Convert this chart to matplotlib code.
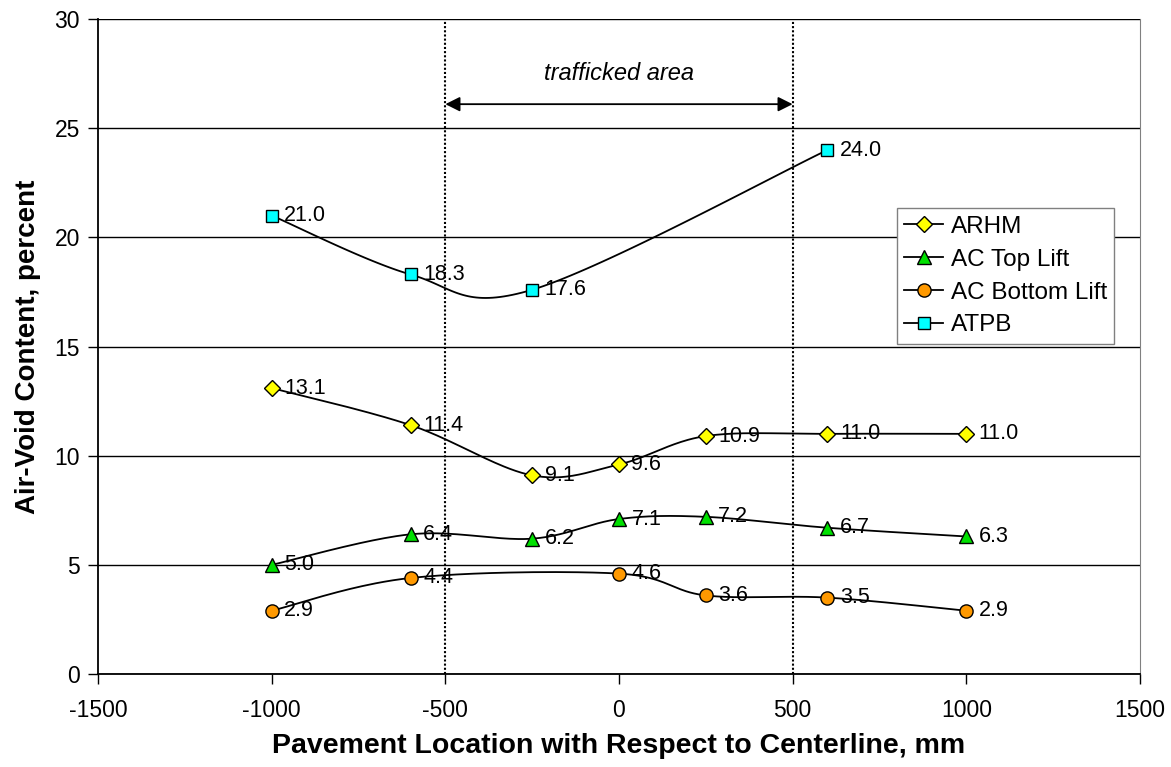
import numpy as np
import matplotlib
matplotlib.use('Agg')
from matplotlib import pyplot as plt

# data
x_arhm = [-1000, -600, -250, 0, 250, 600, 1000]
y_arhm = [13.1, 11.4, 9.1, 9.6, 10.9, 11.0, 11.0]

x_top = [-1000, -600, -250, 0, 250, 600, 1000]
y_top = [5.0, 6.4, 6.2, 7.1, 7.2, 6.7, 6.3]

x_bot = [-1000, -600, 0, 250, 600, 1000]
y_bot = [2.9, 4.4, 4.6, 3.6, 3.5, 2.9]

x_atpb = [-1000, -600, -250, 600]
y_atpb = [21.0, 18.3, 17.6, 24.0]

xticks = [-1500, -1000, -500, 0, 500, 1000, 1500]
yticks = [0, 5, 10, 15, 20, 25, 30]

plt.rcParams['font.family'] = ['Liberation Sans', 'DejaVu Sans']
plt.rcParams['axes.unicode_minus'] = False


def smooth(xs, ys, n=40):
    # Excel-like smoothed line: cubic Bezier through points, tension 1/6
    p = np.column_stack([xs, ys]).astype(float)
    out = [p[0]]
    for i in range(len(p) - 1):
        p0 = p[i - 1] if i > 0 else p[i]
        p1 = p[i]
        p2 = p[i + 1]
        p3 = p[i + 2] if i + 2 < len(p) else p[i + 1]
        c1 = p1 + (p2 - p0) / 6.0
        c2 = p2 - (p3 - p1) / 6.0
        t = np.linspace(0, 1, n)[1:, None]
        seg = ((1 - t) ** 3) * p1 + 3 * ((1 - t) ** 2) * t * c1 + 3 * (1 - t) * t ** 2 * c2 + t ** 3 * p2
        out.extend(seg)
    out = np.array(out)
    return out[:, 0], out[:, 1]


fig = plt.figure(figsize=(11.71, 7.67), dpi=100)
ax = fig.add_axes([0.0837, 0.1212, 0.8898, 0.854])

series = [
    ('ARHM', x_arhm, y_arhm, 'D', '#FFFF00', 8),
    ('AC Top Lift', x_top, y_top, '^', '#00E000', 10),
    ('AC Bottom Lift', x_bot, y_bot, 'o', '#FF9900', 9.5),
    ('ATPB', x_atpb, y_atpb, 's', '#00FFFF', 9),
]

for name, xs, ys, mk, col, ms in series:
    sx, sy = smooth(xs, ys)
    ax.plot(sx, sy, color='black', lw=1.3, zorder=3)
    ax.plot(xs, ys, linestyle='none', marker=mk, mfc=col, mec='black', mew=1.0,
            ms=ms, zorder=4)
    ax.plot([], [], color='black', lw=1.3, marker=mk, mfc=col, mec='black',
            mew=1.0, ms=ms, label=name)
    for xv, yv in zip(xs, ys):
        ax.annotate('%.1f' % yv, (xv, yv), xytext=(9, 0), textcoords='offset points',
                    va='center', ha='left', fontsize=15.5, zorder=5)

# trafficked area
for xv in (-500, 500):
    ax.plot([xv, xv], [0, 30], color='black', lw=1.5, linestyle=(0, (1, 1)), zorder=2)
ax.annotate('', xy=(-500, 26.1), xytext=(500, 26.1),
            arrowprops=dict(arrowstyle='<|-|>', color='black', lw=1.3,
                            mutation_scale=22, shrinkA=0, shrinkB=0))
ax.text(0, 27.5, 'trafficked area', style='italic', fontsize=17,
        ha='center', va='center')

ax.set_xlim(-1500, 1500)
ax.set_ylim(0, 30)
ax.set_xticks(xticks)
ax.set_yticks(yticks)
ax.tick_params(axis='both', labelsize=16.5, direction='out', length=7, width=1)
ax.tick_params(axis='x', pad=11)
ax.tick_params(axis='y', pad=6)
ax.yaxis.grid(True, color='black', lw=1)
ax.set_axisbelow(True)
ax.spines['top'].set_visible(False)
ax.spines['right'].set_color('#808080')
ax.spines['left'].set_linewidth(1.3)
ax.spines['bottom'].set_linewidth(1.3)

ax.set_xlabel('Pavement Location with Respect to Centerline, mm', fontsize=20.5,
              fontweight='bold', va='center')
ax.xaxis.set_label_coords(0.5, -0.11)
ax.set_ylabel('Air-Void Content, percent', fontsize=20, fontweight='bold', va='center')
ax.yaxis.set_label_coords(-0.067, 0.5)

leg = ax.legend(loc='upper left', bbox_to_anchor=(0.767, 0.711), fontsize=17.5,
                frameon=True, fancybox=False, edgecolor='#808080', framealpha=1,
                handlelength=1.6, borderpad=0.3, labelspacing=0.45,
                handletextpad=0.3, borderaxespad=0)
leg.get_frame().set_linewidth(1)

fig.savefig('out.png', dpi=100)
